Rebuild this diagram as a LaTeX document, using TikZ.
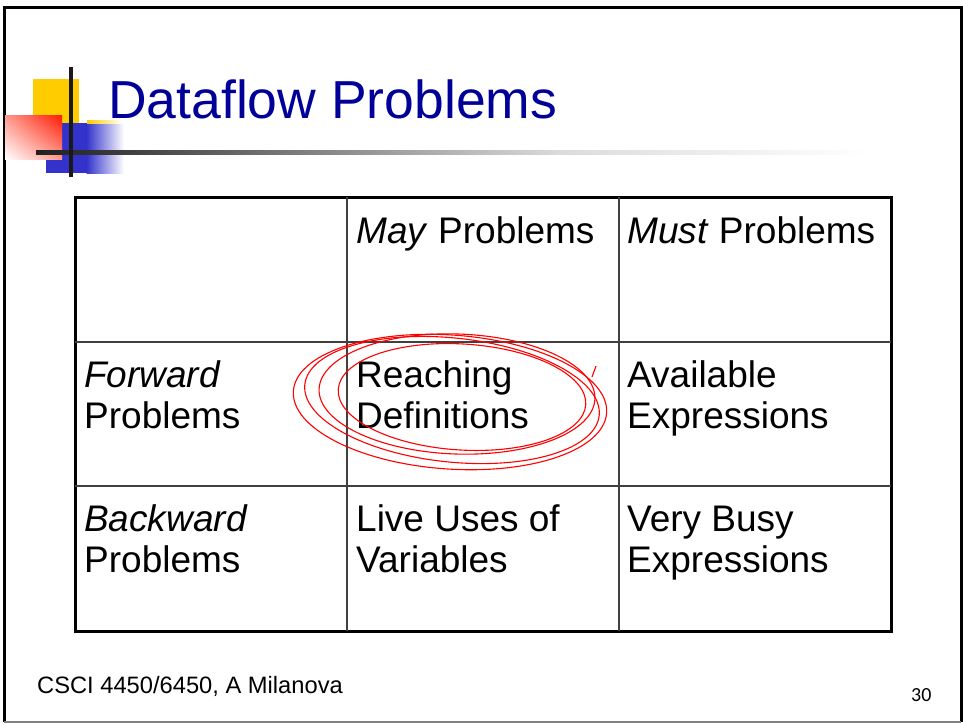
\documentclass[tikz,border=0pt]{standalone}
\usepackage{fontspec}
\setmainfont{Liberation Sans}
\newfontfamily\pagenumfont{Carlito}
\usetikzlibrary{shadings}
\definecolor{titleblue}{HTML}{000099}
\definecolor{logoblue}{HTML}{3333CC}
\definecolor{logoyellow}{HTML}{FFCC00}
\definecolor{logored}{HTML}{FF1A00}

\begin{document}
\begin{tikzpicture}[x=1pt,y=-1pt,
    cell/.style={anchor=base west,inner sep=0pt,align=left,
      font=\fontsize{37}{41}\selectfont},
    grid/.style={black!75,line width=1.6pt},
    scribble/.style={red,line width=1.1pt}]
  \useasboundingbox (0,0) rectangle (963,724);
  % Slide frame.
  \draw[line width=3pt] (4,722) -- (4,7) -- (961,7) -- (961,722);
  \draw[gray,line width=1.5pt] (4,722) -- (961,722);
  % Logo: yellow, blue and red squares.
  \fill[logoyellow] (33,79) rectangle (79,123);
  \fill[logoblue] (46,123) rectangle (87,173);
  \shade[left color=logoblue,right color=white] (86.5,123) rectangle (124,173);
  \shade[left color=logoyellow,right color=white] (87,120.5) rectangle (122,123);
  \shade[upper right=logored,upper left=logored!45,
         lower right=logored!45,lower left=white] (5,115) rectangle (62,159);
  % Title rule and the cross bar.
  \shade[left color=black!88,right color=black!65] (36,150) rectangle (200.5,154);
  \shade[left color=black!65,right color=black!14] (200,150) rectangle (560.5,154);
  \shade[left color=black!14,right color=white] (560,150) rectangle (870,154);
  \fill[black!90] (69,67) rectangle (72.5,177);
  \node[anchor=base west,inner sep=0pt,text=titleblue,
        font=\fontsize{53.5}{60}\selectfont] (title) at (108,118) {Dataflow Problems};
  % Table (multi-line cells sit on their last baseline).
  \draw[line width=3pt] (75,197) rectangle (891,631);
  \foreach \x in {347,619}
    \draw[grid] (\x,197) -- (\x,631);
  \foreach \y in {342,486}
    \draw[grid] (75,\y) -- (891,\y);
  \node[cell] (may) at (356,243) {\textit{May} Problems};
  \node[cell] (must) at (627,243) {\textit{Must} Problems};
  \node[cell] (fwd) at (84,428) {\textit{Forward}\\Problems};
  \node[cell] (reach) at (356,428) {Reaching\\Definitions};
  \node[cell] (avail) at (627,428) {Available\\Expressions};
  \node[cell] (bwd) at (84,572) {\textit{Backward}\\Problems};
  \node[cell] (live) at (356,572) {Live Uses of\\Variables};
  \node[cell] (busy) at (627,572) {Very Busy\\Expressions};
  % Hand-drawn loops round Reaching Definitions.
  \draw[scribble] (462,397) ellipse [x radius=124,y radius=53,rotate=-3.5];
  \draw[scribble] (450,402) ellipse [x radius=157,y radius=67,rotate=-4];
  \draw[scribble] (452,400) ellipse [x radius=148,y radius=62,rotate=-6];
  \draw[scribble] (457,394) ellipse [x radius=138,y radius=60,rotate=-2];
  \draw[scribble] (592,377) -- (596,366);
  % Footer.
  \node[anchor=base west,inner sep=0pt,font=\fontsize{23.7}{28}\selectfont]
    (footer) at (37,693) {CSCI 4450/6450, A Milanova};
  \node[anchor=base west,inner sep=0pt,font=\pagenumfont\fontsize{20}{24}\selectfont]
    (pagenum) at (911,701) {30};
\end{tikzpicture}
\end{document}
